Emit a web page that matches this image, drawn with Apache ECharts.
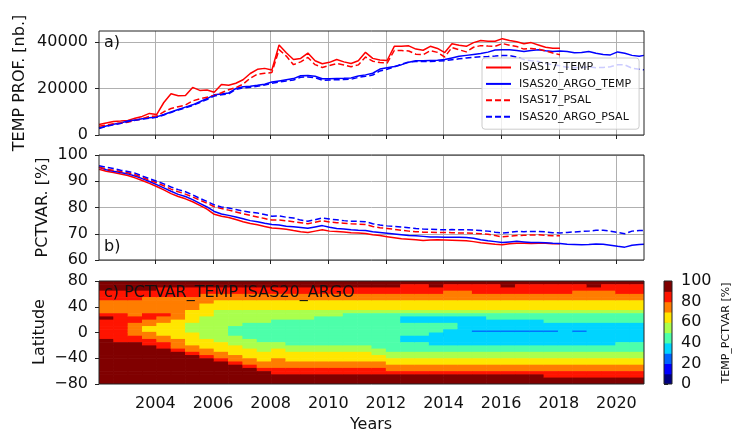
<!DOCTYPE html>
<html><head><meta charset="utf-8">
<script src="https://cdn.jsdelivr.net/npm/echarts@6/dist/echarts.min.js"></script>
<style>html,body{margin:0;padding:0;background:#fff}#c{width:732px;height:432px}</style>
</head><body><div id="c"></div>
<script>
// ---------- axes / categories ----------
const xTicks = [2004, 2006, 2008, 2010, 2012, 2014, 2016, 2018, 2020];
const profTicks = [0, 20000, 40000];
const pctTicks = [60, 70, 80, 90, 100];
const latTicks = [-80, -40, 0, 40, 80];
const cbarTicks = [0, 20, 40, 60, 80, 100];
const seriesNames = ['ISAS17_TEMP', 'ISAS20_ARGO_TEMP', 'ISAS17_PSAL', 'ISAS20_ARGO_PSAL'];
// quarterly samples (month index since Jan 2002), last = Dec 2020
const months = [];
for (let m = 0; m <= 225; m += 3) months.push(m);
months.push(227);
const years = months.map(m => 2002 + (m + 0.5) / 12);
const T0 = years[0], T1 = years[years.length - 1];

// ---------- panel a: number of profiles ----------
const profIsas17Temp = [
  4500, 5200, 5800, 6000, 6300, 7200, 8000, 9300, 8800, 14000, 17800, 16900,
  17000, 20500, 19200, 19400, 18400, 21800, 21400, 22300, 23800, 26500, 28300, 28700,
  28000, 38800, 35400, 32500, 33000, 35300, 32000, 30700, 31300, 32500, 31500, 30800,
  32000, 35600, 33000, 32300, 32100, 38200, 38200, 38400, 37000, 36500, 38200, 37300,
  35500, 39300, 38700, 38200, 39800, 40700, 40400, 40400, 41500, 40700, 40200, 39300,
  39800, 38800, 37800, 37400, 37400];
const profArgoTemp = [
  3000, 3900, 4600, 5200, 6000, 6500, 7000, 7400, 7800, 8800, 9900, 11000,
  12000, 13000, 14300, 15700, 17300, 17700, 18100, 20000, 20800, 21000, 21400, 21900,
  22800, 23300, 23800, 24300, 25500, 25600, 25300, 24200, 24200, 24300, 24400, 24600,
  25400, 25900, 26600, 28400, 29000, 29500, 30300, 31300, 32000, 32000, 32100, 32200,
  32500, 33200, 33900, 34300, 34700, 35100, 35700, 36600, 36700, 36700, 36400, 36000,
  36400, 36700, 36300, 36000, 36200, 36000, 35400, 35500, 36000, 35200, 34700, 34500,
  35800, 35200, 34300, 33900, 34300];
const profIsas17Psal = [
  3800, 4300, 4800, 5200, 5500, 6300, 7000, 8000, 8200, 10000, 11400, 12200,
  12900, 14700, 15600, 16300, 17000, 18200, 19500, 20400, 21900, 24500, 26200, 26600,
  26900, 36800, 34000, 30300, 31500, 33400, 30300, 29100, 29900, 30800, 30200, 29400,
  30200, 33600, 31800, 31200, 31000, 36400, 36400, 36200, 34800, 34600, 36300, 35600,
  33600, 37700, 36700, 35800, 37800, 38500, 38300, 38200, 39400, 38700, 38100, 37000,
  37300, 37000, 36200, 35300, 34600];
const profArgoPsal = [
  2800, 3700, 4400, 5000, 5800, 6300, 6800, 7200, 7600, 8600, 9700, 10800,
  11700, 12700, 14000, 15300, 16800, 17300, 17700, 19600, 20300, 20600, 21000, 21500,
  22300, 22800, 23300, 23700, 24900, 25000, 24700, 23600, 23700, 23800, 23900, 24000,
  24800, 25300, 25800, 27600, 28300, 29300, 30500, 31500, 31700, 31700, 31700, 31800,
  32000, 32400, 32800, 33200, 33500, 33700, 33800, 34000, 34300, 34200, 33600, 32500,
  32000, 31700, 30800, 30200, 29800, 29200, 29000, 29100, 29300, 29000, 29100, 29400,
  30300, 30200, 28800, 28300, 28100];

// ---------- panel b: percentage of variance ----------
const pctIsas17Temp = [
  94.6, 93.8, 93.3, 92.8, 92.2, 91.3, 90.3, 89.2, 88.0, 86.7, 85.3, 84.2,
  83.3, 82.2, 80.8, 79.4, 77.4, 76.7, 76.2, 75.4, 74.6, 73.9, 73.4, 72.8,
  72.2, 72.0, 71.7, 71.2, 70.8, 70.5, 71.0, 71.5, 71.0, 70.9, 70.7, 70.4,
  70.3, 70.1, 69.6, 69.3, 68.9, 68.5, 68.1, 67.9, 67.7, 67.4, 67.6, 67.7,
  67.6, 67.5, 67.4, 67.3, 67.0, 66.6, 66.3, 66.0, 65.8, 66.2, 66.4, 66.4,
  66.3, 66.4, 66.4, 66.2, 66.2];
const pctArgoTemp = [
  95.3, 94.4, 93.8, 93.3, 92.8, 92.0, 91.0, 89.9, 88.7, 87.5, 86.2, 85.0,
  84.2, 83.0, 81.6, 80.2, 78.5, 77.5, 77.0, 76.4, 75.7, 75.0, 74.6, 74.0,
  73.5, 73.3, 72.9, 72.7, 72.4, 72.1, 72.6, 73.1, 72.5, 72.0, 71.8, 71.5,
  71.3, 71.2, 70.8, 70.5, 70.2, 69.9, 69.6, 69.3, 69.2, 69.0, 68.8, 68.8,
  68.7, 68.7, 68.7, 68.6, 68.3, 67.7, 67.3, 67.0, 66.7, 66.9, 67.1, 66.9,
  66.7, 66.7, 66.6, 66.4, 66.3, 66.0, 65.9, 65.8, 65.9, 66.1, 66.0, 65.6,
  65.2, 64.9, 65.6, 65.9, 66.0];
const pctIsas17Psal = [
  95.3, 94.6, 94.2, 93.7, 93.2, 92.5, 91.5, 90.4, 89.4, 88.3, 87.0, 86.0,
  85.1, 84.0, 82.8, 81.6, 80.3, 79.6, 79.0, 78.3, 77.6, 77.0, 76.4, 75.8,
  75.2, 75.3, 74.9, 74.6, 74.2, 73.8, 74.4, 75.0, 74.5, 74.2, 74.0, 73.8,
  73.7, 73.5, 72.8, 72.3, 72.0, 71.7, 71.3, 71.0, 70.8, 70.6, 70.6, 70.5,
  70.5, 70.4, 70.3, 70.3, 70.2, 70.0, 69.8, 69.3, 68.8, 69.1, 69.3, 69.4,
  69.5, 69.6, 69.4, 69.2, 69.2];
const pctArgoPsal = [
  95.9, 95.3, 94.9, 94.2, 93.7, 93.1, 92.0, 91.0, 90.0, 89.0, 87.8, 86.8,
  86.0, 84.8, 83.5, 82.3, 81.0, 80.2, 79.8, 79.2, 78.6, 78.2, 77.9, 77.3,
  76.7, 76.8, 76.3, 76.0, 75.2, 74.8, 75.3, 76.0, 75.6, 75.3, 75.0, 74.8,
  74.7, 74.6, 73.8, 73.3, 73.0, 72.8, 72.6, 72.3, 72.0, 71.8, 71.7, 71.6,
  71.5, 71.6, 71.5, 71.5, 71.4, 71.2, 71.0, 70.6, 70.3, 70.5, 70.9, 70.8,
  70.9, 70.9, 70.7, 70.4, 70.3, 70.5, 70.7, 70.9, 71.0, 71.3, 71.3, 71.0,
  70.5, 70.0, 71.0, 71.2, 71.3];

// ---------- panel c: PCTVAR_TEMP by latitude (level k = 10k..10k+10 %) ----------
const latEdges = [80, 75, 70, 65, 60, 55, 50, 45, 40, 35, 30, 25, 20, 15, 10, 5, 3, 1, 0,
  -5, -10, -15, -20, -25, -30, -35, -40, -45, -50, -55, -60, -65, -70, -75, -80];
// one string per half-year column, north (80) to south (-80)
const pctvarCols = [
  "9998887777898888888899999999999999",
  "9998887777888888888889999999999999",
  "9998887777788777777889999999999999",
  "9998877777887766677788999999999999",
  "9988877777877666666778899999999999",
  "9988877777776666666677789999999999",
  "9988877776666555556666778999999999",
  "9988777666655555555566677899999999",
  "9988776665555555555556667789999999",
  "9988776665555544444555666778999999",
  "9988776665555444444455566677899999",
  "9988776665555444444445556667789999",
  "9988776665554444444445566677788999",
  "9988776665554444444444556667788999",
  "9988776665554444444444556667788999",
  "9988776665544444444444556667788999",
  "9988776665544444444444556667788999",
  "9988776665444444444444556667788999",
  "9988776665444444444444556667788999",
  "9988776665444444444444455667788999",
  "9988776665444444444444445566778999",
  "9888776665433444444334445566778999",
  "9888776665433444444334445566778999",
  "9988776665433444443333445566778999",
  "9887776665433443333333445566778999",
  "9887776665433333333333445566778999",
  "9888776665433333233333445566778999",
  "9888776665443333233333445566778999",
  "9988776665443333233333445566778999",
  "9888776665443333233333445566778999",
  "9888776665443333233333445566778999",
  "9888776665444333233333445566778899",
  "9888776665444333333333445566778899",
  "9887776665444333233333445566778899",
  "9987776665444333333333445566778899",
  "9887776665444333333333445566778899",
  "9888776665444333333334445566778899",
  "9888776665444333333334445566778899"];
const levelColors = ['#000080', '#0000ff', '#0063ff', '#00d4ff', '#4dffaa',
  '#aaff4d', '#ffe600', '#ff7d00', '#ff1400', '#800000'];

// ---------- build ----------
const colEdges = [];
for (let i = 0; i <= pctvarCols.length; i++) colEdges.push(T0 + (T1 - T0) * i / pctvarCols.length);
const heatData = [];
pctvarCols.forEach((col, c) => {
  for (let r = 0; r < latEdges.length - 1; r++) {
    const lvl = +col[r];
    heatData.push([colEdges[c], colEdges[c + 1], latEdges[r + 1], latEdges[r], lvl * 10 + 5]);
  }
});
const cbarData = levelColors.map((c, i) => [0, 1, i * 10, i * 10 + 10, i * 10 + 5]);

const FONT = 'DejaVu Sans';
const TXT = '#111';
const FRAME = '#222';
const GRIDC = '#b0b0b0';
const plain = v => String(v).replace('-', '\u2212');

function lineSeries(name, arr, gi, color, dashed) {
  return {
    type: 'line', name, xAxisIndex: gi, yAxisIndex: gi,
    data: arr.map((v, i) => [years[i], v]),
    symbol: 'none', showSymbol: false, silent: true, animation: false,
    lineStyle: { color, width: 1.5, type: dashed ? [6, 3] : 'solid' },
    itemStyle: { color }, z: 3
  };
}
function rectItem(params, api) {
  const a = api.coord([api.value(0), api.value(3)]);
  const b = api.coord([api.value(1), api.value(2)]);
  return { type: 'rect', shape: { x: a[0], y: a[1], width: b[0] - a[0] + 0.6, height: b[1] - a[1] + 0.6 },
    style: { fill: api.visual('color') } };
}
function xAx(gi, labels, grid) {
  return {
    type: 'value', gridIndex: gi, min: T0, max: T1, splitNumber: 9,
    axisLine: { show: false },
    axisTick: { show: true, length: 4, customValues: xTicks, lineStyle: { color: FRAME, width: 1 } },
    axisLabel: { show: labels, customValues: xTicks, margin: 12, fontFamily: FONT, fontSize: 16, color: TXT, formatter: plain },
    splitLine: { show: grid, lineStyle: { color: GRIDC, width: 1 } }
  };
}
const gridBase = { show: true, borderColor: FRAME, borderWidth: 1, backgroundColor: 'transparent', z: 10, containLabel: false };

const option = {
  animation: false,
  backgroundColor: '#fff',
  grid: [
    Object.assign({ left: 99, top: 31, width: 545, height: 104 }, gridBase),
    Object.assign({ left: 99, top: 155, width: 545, height: 105 }, gridBase),
    Object.assign({ left: 99, top: 281, width: 545, height: 103 }, gridBase),
    Object.assign({ left: 664, top: 281, width: 8, height: 103 }, gridBase)
  ],
  xAxis: [
    xAx(0, false, true), xAx(1, false, true), xAx(2, true, false),
    { type: 'value', gridIndex: 3, min: 0, max: 1, show: false }
  ],
  yAxis: [
    { type: 'value', gridIndex: 0, min: 0, max: 44800, splitNumber: 2,
      axisLine: { show: false },
      axisTick: { show: true, length: 4, customValues: profTicks, lineStyle: { color: FRAME } },
      axisLabel: { customValues: profTicks, margin: 11, fontFamily: FONT, fontSize: 16, color: TXT, formatter: plain },
      splitLine: { show: true, lineStyle: { color: GRIDC, width: 1 } } },
    { type: 'value', gridIndex: 1, min: 60, max: 100, interval: 10,
      axisLine: { show: false },
      axisTick: { show: true, length: 4, lineStyle: { color: FRAME } },
      axisLabel: { margin: 11, fontFamily: FONT, fontSize: 16, color: TXT, formatter: plain },
      splitLine: { show: true, lineStyle: { color: GRIDC, width: 1 } } },
    { type: 'value', gridIndex: 2, min: -80, max: 80, interval: 40,
      axisLine: { show: false },
      axisTick: { show: true, length: 4, lineStyle: { color: FRAME } },
      axisLabel: { margin: 11, fontFamily: FONT, fontSize: 16, color: TXT, formatter: plain },
      splitLine: { show: false } },
    { type: 'value', gridIndex: 3, min: 0, max: 100, interval: 20, position: 'right',
      axisLine: { show: false },
      axisTick: { show: true, length: 4, lineStyle: { color: FRAME } },
      axisLabel: { margin: 9, fontFamily: FONT, fontSize: 16, color: TXT, formatter: plain },
      splitLine: { show: false } }
  ],
  visualMap: {
    type: 'piecewise', show: false, dimension: 4, seriesIndex: [8, 9],
    pieces: levelColors.map((c, i) => ({ gte: i * 10, lt: i * 10 + 10, color: c }))
  },
  legend: {
    data: seriesNames, orient: 'vertical', left: 482, top: 58,
    itemWidth: 25, itemHeight: 12, itemGap: 5.4, padding: [4, 8, 7, 3],
    itemStyle: { opacity: 0 },
    backgroundColor: 'rgba(255,255,255,0.8)', borderColor: '#cccccc', borderWidth: 1, borderRadius: 3,
    textStyle: { fontFamily: FONT, fontSize: 11, color: TXT, padding: [0, 0, 0, 3] },
    selectedMode: false
  },
  series: [
    lineSeries('ISAS17_TEMP', profIsas17Temp, 0, '#ff0000', false),
    lineSeries('ISAS20_ARGO_TEMP', profArgoTemp, 0, '#0000ff', false),
    lineSeries('ISAS17_PSAL', profIsas17Psal, 0, '#ff0000', true),
    lineSeries('ISAS20_ARGO_PSAL', profArgoPsal, 0, '#0000ff', true),
    lineSeries('ISAS17_TEMP', pctIsas17Temp, 1, '#ff0000', false),
    lineSeries('ISAS20_ARGO_TEMP', pctArgoTemp, 1, '#0000ff', false),
    lineSeries('ISAS17_PSAL', pctIsas17Psal, 1, '#ff0000', true),
    lineSeries('ISAS20_ARGO_PSAL', pctArgoPsal, 1, '#0000ff', true),
    { type: 'custom', name: 'PCTVAR_TEMP', xAxisIndex: 2, yAxisIndex: 2, clip: true, silent: true,
      renderItem: rectItem, encode: { x: [0, 1], y: [2, 3] }, data: heatData, z: 2 },
    { type: 'custom', name: 'cbar', xAxisIndex: 3, yAxisIndex: 3, clip: true, silent: true,
      renderItem: rectItem, encode: { x: [0, 1], y: [2, 3] }, data: cbarData, z: 2 }
  ],
  graphic: { elements: [
    { type: 'text', x: 20, y: 83, rotation: Math.PI / 2, z: 20,
      style: { text: 'TEMP PROF. [nb.]', fontFamily: FONT, fontSize: 16, fill: TXT, align: 'center', verticalAlign: 'middle' } },
    { type: 'text', x: 43, y: 207.5, rotation: Math.PI / 2, z: 20,
      style: { text: 'PCTVAR. [%]', fontFamily: FONT, fontSize: 16, fill: TXT, align: 'center', verticalAlign: 'middle' } },
    { type: 'text', x: 40, y: 332, rotation: Math.PI / 2, z: 20,
      style: { text: 'Latitude', fontFamily: FONT, fontSize: 16, fill: TXT, align: 'center', verticalAlign: 'middle' } },
    { type: 'text', x: 371, y: 425, z: 20,
      style: { text: 'Years', fontFamily: FONT, fontSize: 16, fill: TXT, align: 'center', verticalAlign: 'middle' } },
    { type: 'text', x: 726, y: 333, rotation: Math.PI / 2, z: 20,
      style: { text: 'TEMP_PCTVAR [%]', fontFamily: FONT, fontSize: 11, fill: TXT, align: 'center', verticalAlign: 'middle' } },
    { type: 'text', x: 104, y: 43, z: 20,
      style: { text: 'a)', fontFamily: FONT, fontSize: 16, fill: TXT, align: 'left', verticalAlign: 'middle' } },
    { type: 'text', x: 104, y: 247, z: 20,
      style: { text: 'b)', fontFamily: FONT, fontSize: 16, fill: TXT, align: 'left', verticalAlign: 'middle' } },
    { type: 'text', x: 104, y: 293, z: 20,
      style: { text: 'c) PCTVAR_TEMP ISAS20_ARGO', fontFamily: FONT, fontSize: 16, fill: TXT, align: 'left', verticalAlign: 'middle' } }
  ] }
};
const chart = echarts.init(document.getElementById('c'), null, { renderer: 'canvas', width: 732, height: 432 });
chart.setOption(option);
</script></body></html>
